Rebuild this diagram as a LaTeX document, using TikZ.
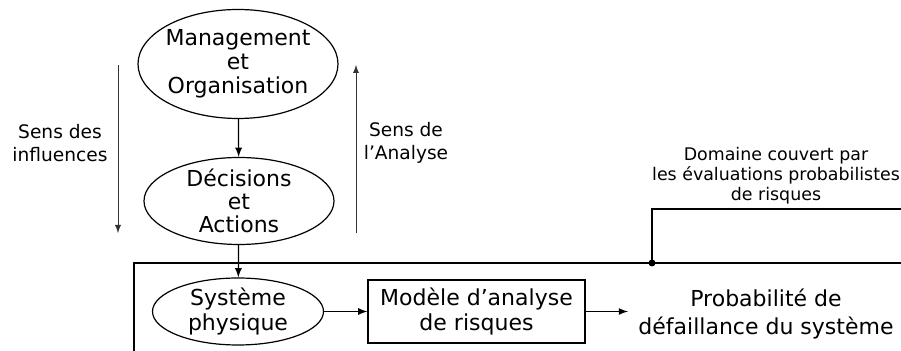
\documentclass[tikz,border=0pt]{standalone}
\usepackage{fontspec}
\setmainfont{DejaVu Sans}
\usetikzlibrary{shapes.geometric}

\tikzset{
  bulle/.style={draw, ellipse, semithick, inner sep=-2pt, align=center, font=\fontsize{11}{12}\selectfont},
  boite/.style={draw, rectangle, semithick, inner sep=0pt, align=center, font=\fontsize{11}{12.5}\selectfont},
  fleche/.style={semithick, -latex},
  sens/.style={thin, black!80, -latex},
}

\begin{document}
\begin{tikzpicture}[x=0.5pt,y=-0.5pt]
\useasboundingbox (0,0) rectangle (901,351);
%
\node[bulle, minimum width=100pt, minimum height=54.5pt] (mgt) at (238,64) {Management\\et\\Organisation};
\node[bulle, minimum width=95pt, minimum height=43.5pt, font=\fontsize{11}{11.5}\selectfont] (dec) at (239,201) {Décisions\\et\\Actions};
\node[bulle, minimum width=85.5pt, minimum height=33.5pt, font=\fontsize{11}{12.5}\selectfont] (sys) at (238,311.5) {Système\\physique};
\node[boite, minimum width=108.5pt, minimum height=31.5pt] (mod) at (476.5,311.5) {Modèle d’analyse\\de risques};
\node[align=center, font=\fontsize{11}{14}\selectfont] (proba) at (766,314) {Probabilité de\\défaillance du système};
%
\node[align=center, font=\fontsize{9.3}{11.5}\selectfont] (infl) at (60,143) {Sens des\\influences};
\node[align=center, font=\fontsize{9.3}{11.5}\selectfont] (anal) at (406,143) {Sens de\\l’Analyse};
\node[align=center, font=\fontsize{8.7}{10}\selectfont] (dom) at (776,176) {Domaine couvert par\\les évaluations probabilistes\\de risques};
%
\coordinate (i1) at (118,65);
\coordinate (i2) at (118,233);
\coordinate (a1) at (356,233);
\coordinate (a2) at (356,65);
\draw[sens] (i1) -- (i2);
\draw[sens] (a1) -- (a2);
%
\draw[fleche] (mgt) -- (dec);
\draw[fleche] (dec) -- (sys);
\draw[fleche] (sys) -- (mod);
\coordinate (pb) at (628,311.5);
\draw[fleche] (mod) -- (pb);
%
\coordinate (f1) at (901,263);
\coordinate (f2) at (134,351);
\coordinate (pt) at (652,263);
\coordinate (f3) at (901,209);
\draw[semithick] (f1) -| (f2);
\draw[semithick] (pt) |- (f3);
\fill (pt) circle (3.5);
\end{tikzpicture}
\end{document}
